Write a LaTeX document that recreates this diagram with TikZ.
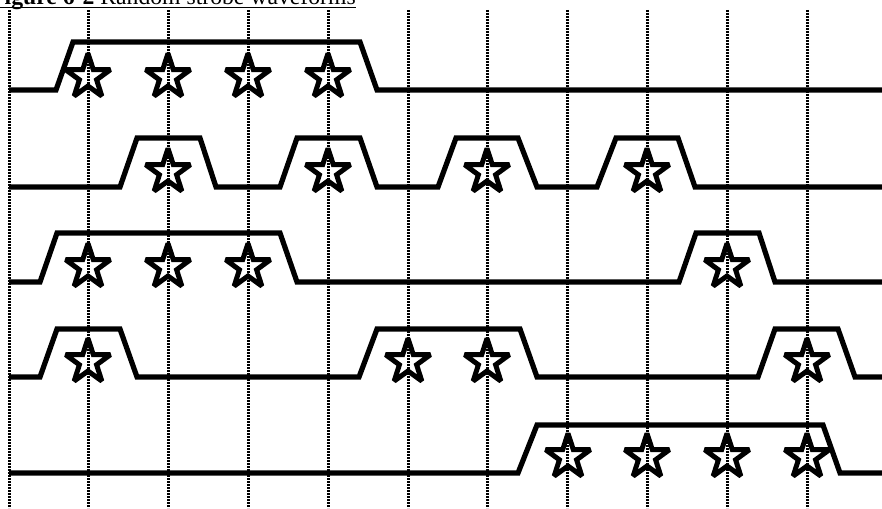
\documentclass[tikz,border=0pt]{standalone}
\usepackage{fontspec}
\setmainfont{Liberation Serif}
\usepackage{tikz}
\usetikzlibrary{shapes.geometric}
\tikzset{
  wave/.style   ={line width=5.2pt, line join=miter},
  strobe/.style ={draw, star, star points=5, star point ratio=2.6, minimum size=47pt,
                  inner sep=0pt, fill=white, line width=5pt, miter limit=2.5},
  tick/.style   ={line width=3pt, dash pattern=on 2pt off 1pt},
  caption/.style={anchor=base west, inner sep=0pt, font=\fontsize{23.7}{26}\selectfont},
}
\begin{document}
\begin{tikzpicture}[x=1pt, y=-1pt]
  \path[use as bounding box, clip] (0,0) rectangle (882,508);
  % title, cut by the top edge
  \node[caption] (title) at (-10,5) {\textbf{Figure 6-2} Random strobe waveforms};
  \draw[line width=1.2pt] ([yshift=-2.5pt]title.base west) -- ([yshift=-2.5pt]title.base east);
  % waveforms
  \draw[wave] (9,90) -- (56,90) -- (73,42) -- (360,42) -- (377,90) -- (882,90);
  \draw[wave] (9,187) -- (120,187) -- (137,138) -- (200,138) -- (216,187) -- (280,187) -- (297,138)
    -- (360,138) -- (377,187) -- (438,187) -- (456,138) -- (518,138) -- (537,187) -- (597,187)
    -- (616,138) -- (678,138) -- (695,187) -- (882,187);
  \draw[wave] (9,282) -- (40,282) -- (57,233) -- (280,233) -- (297,282) -- (679,282) -- (696,233)
    -- (759,233) -- (775,282) -- (882,282);
  \draw[wave] (9,377) -- (40,377) -- (57,329) -- (120,329) -- (137,377) -- (359,377) -- (377,329)
    -- (520,329) -- (537,377) -- (758,377) -- (775,329) -- (838,329) -- (855,377) -- (882,377);
  \draw[wave] (9,473) -- (518,473) -- (537,425) -- (823,425) -- (840,473) -- (882,473);
  % strobes
  \node[strobe] (s11) at (88,77) {};
  \node[strobe] (s12) at (168,77) {};
  \node[strobe] (s13) at (248,77) {};
  \node[strobe] (s14) at (328,77) {};
  \node[strobe] (s21) at (168,172) {};
  \node[strobe] (s22) at (328,172) {};
  \node[strobe] (s23) at (487,172) {};
  \node[strobe] (s24) at (647,172) {};
  \node[strobe] (s31) at (88,267) {};
  \node[strobe] (s32) at (168,267) {};
  \node[strobe] (s33) at (248,267) {};
  \node[strobe] (s34) at (727,267) {};
  \node[strobe] (s41) at (88,362) {};
  \node[strobe] (s42) at (408,362) {};
  \node[strobe] (s43) at (487,362) {};
  \node[strobe] (s44) at (807,362) {};
  \node[strobe] (s51) at (568,457) {};
  \node[strobe] (s52) at (647,457) {};
  \node[strobe] (s53) at (727,457) {};
  \node[strobe] (s54) at (807,457) {};
  % clock grid
  \draw[tick] (9,10) -- (9,508);
  \draw[tick] (88.5,10) -- (88.5,508);
  \draw[tick] (168,10) -- (168,508);
  \draw[tick] (248,10) -- (248,508);
  \draw[tick] (328,10) -- (328,508);
  \draw[tick] (408,10) -- (408,508);
  \draw[tick] (487.5,10) -- (487.5,508);
  \draw[tick] (567.5,10) -- (567.5,508);
  \draw[tick] (647,10) -- (647,508);
  \draw[tick] (727,10) -- (727,508);
  \draw[tick] (807,10) -- (807,508);
\end{tikzpicture}
\end{document}
